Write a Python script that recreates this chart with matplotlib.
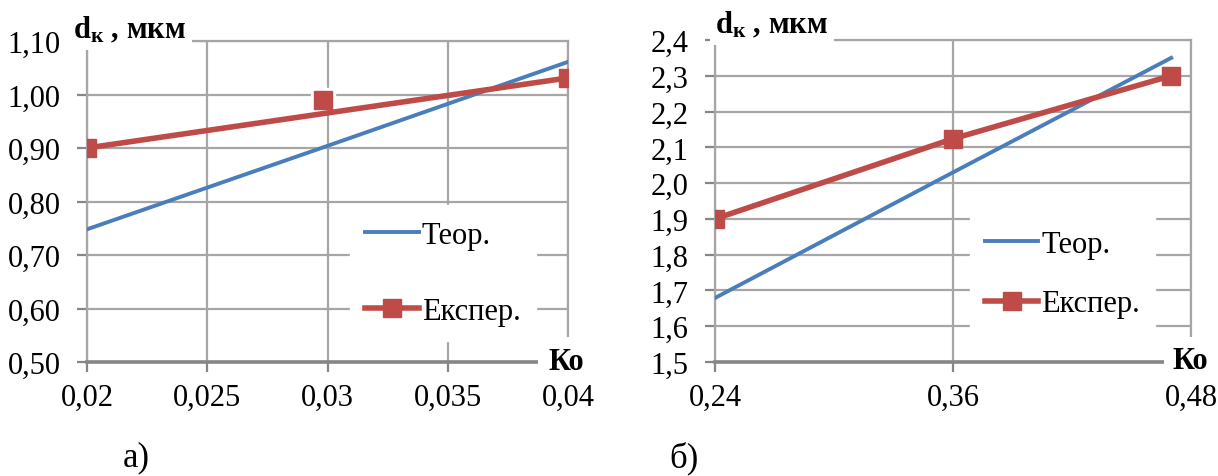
import matplotlib
matplotlib.use("Agg")
import matplotlib.pyplot as plt

plt.rcParams["font.family"] = ["Liberation Serif", "DejaVu Serif"]
plt.rcParams["mathtext.fontset"] = "custom"
plt.rcParams["mathtext.rm"] = "Liberation Serif"
plt.rcParams["mathtext.bf"] = "Liberation Serif:bold"

# панель а)
a_x = [0.02, 0.03, 0.04]
a_teor = [0.748, 0.904, 1.061]
a_exp_x = [0.02, 0.0298, 0.04]
a_exp = [0.90, 0.99, 1.031]
a_exp_line_x = [0.02, 0.04]
a_exp_line = [0.90, 1.031]
a_xticks = [0.02, 0.025, 0.03, 0.035, 0.04]
a_xlabels = ["0,02", "0,025", "0,03", "0,035", "0,04"]
a_yticks = [0.5, 0.6, 0.7, 0.8, 0.9, 1.0, 1.1]
a_ylabels = ["0,50", "0,60", "0,70", "0,80", "0,90", "1,00", "1,10"]

# панель б)
b_x = [0.24, 0.36, 0.47]
b_teor = [1.679, 2.030, 2.350]
b_exp = [1.90, 2.124, 2.30]
b_xticks = [0.24, 0.36, 0.48]
b_xlabels = ["0,24", "0,36", "0,48"]
b_yticks = [1.5, 1.6, 1.7, 1.8, 1.9, 2.0, 2.1, 2.2, 2.3, 2.4]
b_ylabels = ["1,5", "1,6", "1,7", "1,8", "1,9", "2,0", "2,1", "2,2", "2,3", "2,4"]

blue = "#4a7ebb"
red = "#be4b48"
grid_c = "#a6a6a6"
fs = 22

W, H = 1218, 477
fig = plt.figure(figsize=(W / 100, H / 100), dpi=100)
ax1 = fig.add_axes([87 / W, 1 - 363 / H, 481 / W, 321 / H])
ax2 = fig.add_axes([715 / W, 1 - 363 / H, 476 / W, 322 / H])


def style(ax, xt, xl, yt, yl):
    ax.set_xlim(xt[0], xt[-1])
    ax.set_ylim(yt[0], yt[-1])
    ax.set_xticks(xt)
    ax.set_xticklabels(xl)
    ax.set_yticks(yt)
    ax.set_yticklabels(yl)
    ax.grid(True, color=grid_c, lw=1.6)
    ax.set_axisbelow(True)
    for s in ["left", "right", "top"]:
        ax.spines[s].set_color(grid_c)
        ax.spines[s].set_linewidth(1.6)
    ax.spines["bottom"].set_color("#868686")
    ax.spines["bottom"].set_linewidth(2.6)
    ax.tick_params(axis="both", labelsize=fs, color="#868686", length=7, width=1.6)
    ax.tick_params(axis="y", pad=12)
    ax.tick_params(axis="x", pad=8)


style(ax1, a_xticks, a_xlabels, a_yticks, a_ylabels)
style(ax2, b_xticks, b_xlabels, b_yticks, b_ylabels)

leg_kw = dict(loc="center", fontsize=fs, frameon=True, fancybox=False,
              edgecolor="white", facecolor="white", framealpha=1,
              handlelength=1.75, handletextpad=0.1)

# а)
ax1.plot(a_x, a_teor, color=blue, lw=2.8, label="Теор.", zorder=3)
ax1.plot(a_exp_line_x, a_exp_line, color=red, lw=4, zorder=3)
ax1.plot(a_exp_x[1:2], a_exp[1:2], ls="none", marker="s", ms=17, color="white", zorder=2.5)
ax1.plot(a_exp_x, a_exp, ls="none", marker="s", ms=13, color=red, zorder=4)
ax1.plot([], [], color=red, lw=4, marker="s", ms=13, label="Експер.")
ax1.legend(bbox_to_anchor=(0.74, 0.276), labelspacing=1.55, borderpad=0.5, **leg_kw)

# б)
ax2.plot(b_x, b_teor, color=blue, lw=2.8, label="Теор.", zorder=3)
ax2.plot(b_x, b_exp, color=red, lw=4, marker="s", ms=13, label="Експер.", zorder=4)
ax2.legend(bbox_to_anchor=(0.73, 0.273), labelspacing=1.0, borderpad=0.5, **leg_kw)

# подписи осей
ax1.text(-14 / 481, 1 + 4 / 321, r"$\mathbf{d_{к}}$ , мкм", transform=ax1.transAxes,
         fontsize=22, fontweight="bold", ha="left", va="baseline",
         bbox=dict(facecolor="white", edgecolor="none", pad=4))
ax2.text(0.0, 1 + 8 / 322, r"$\mathbf{d_{к}}$ , мкм", transform=ax2.transAxes,
         fontsize=22, fontweight="bold", ha="left", va="baseline",
         bbox=dict(facecolor="white", edgecolor="none", pad=4))
ax1.text(0.996, 0.003, "Ко", transform=ax1.transAxes, fontsize=fs, fontweight="bold",
         ha="center", va="center", bbox=dict(facecolor="white", edgecolor="none", pad=7))
ax2.text(0.998, 0.006, "Ко", transform=ax2.transAxes, fontsize=fs, fontweight="bold",
         ha="center", va="center", bbox=dict(facecolor="white", edgecolor="none", pad=6))

fig.text(136 / W, 1 - 458 / H, "а)", fontsize=25, ha="center", va="center")
fig.text(684 / W, 1 - 458 / H, "б)", fontsize=25, ha="center", va="center")

fig.savefig("out.png", dpi=100)
